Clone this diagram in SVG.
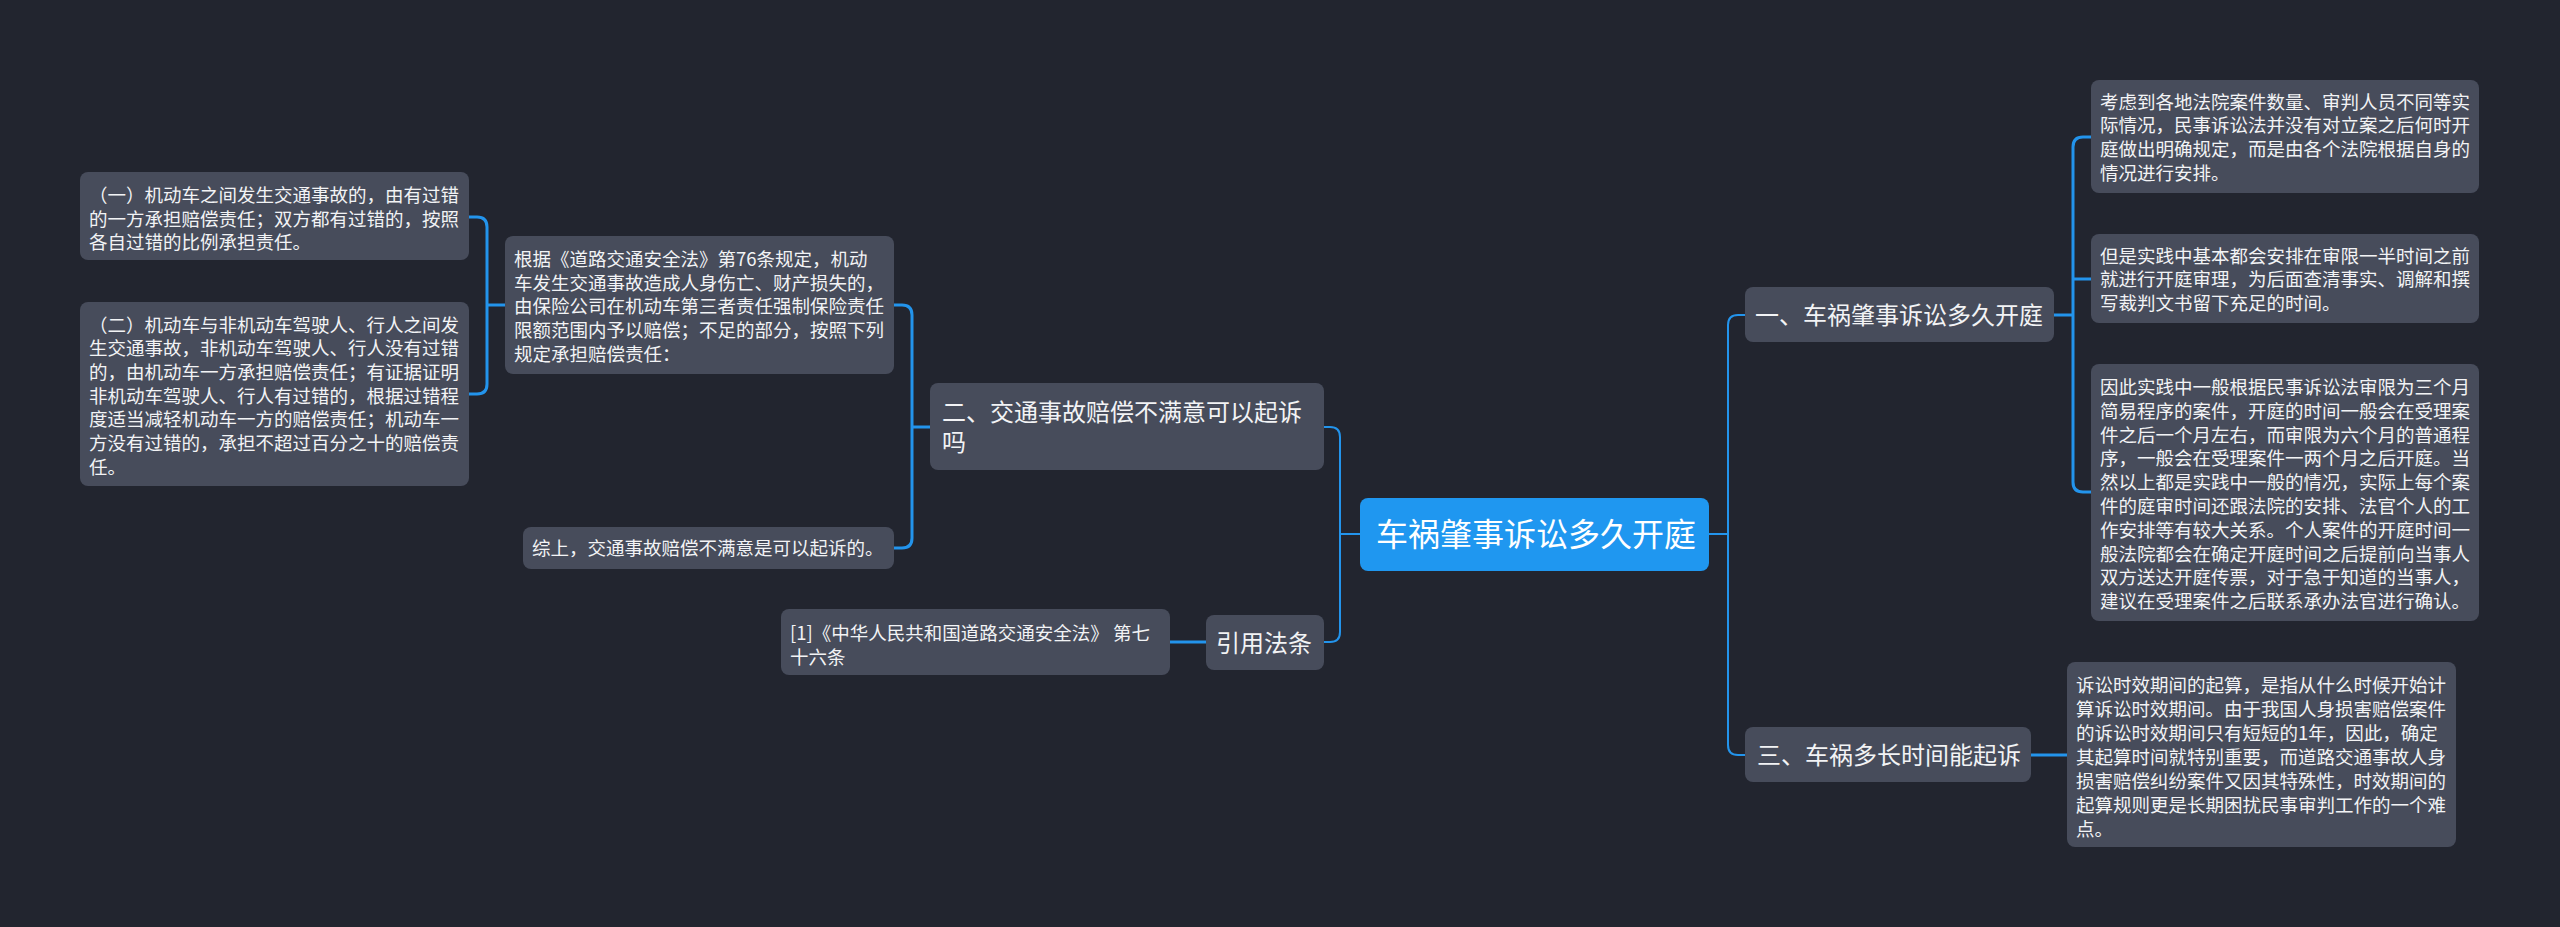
<svg xmlns="http://www.w3.org/2000/svg" width="2560" height="927" viewBox="0 0 2560 927">
<style>
.bg{fill:#22252f}
.n rect{fill:#474c5b}
.root rect{fill:#1f97f0}
text{font-family:"Noto Sans CJK SC","Noto Sans",sans-serif;fill:#f2f3f5}
.s{font-size:18.5px}
.m{font-size:24px}
.l{font-size:32px;fill:#ffffff}
.c{fill:none;stroke:#2394ec;stroke-width:3;stroke-linecap:round}
.c2{fill:none;stroke:#2394ec;stroke-width:2}
</style>
<rect class="bg" x="0" y="0" width="2560" height="927"/>
<g id="connectors">
<path class="c2" d="M1709,534 H1728 M1745,315 H1738 Q1728,315 1728,325 V745 Q1728,755 1738,755 H1745"/>
<path class="c2" d="M1360,534 H1340 M1324,427 H1330 Q1340,427 1340,437 V632 Q1340,642 1330,642 H1324"/>
<path class="c" d="M930,427 H912 M894,305 H902 Q912,305 912,315 V538 Q912,548 902,548 H894"/>
<path class="c" d="M505,305 H487 M469,217 H477 Q487,217 487,227 V384 Q487,394 477,394 H469"/>
<path class="c" d="M1206,642 H1170"/>
<path class="c" d="M2054,315 H2073 M2091,137 H2083 Q2073,137 2073,147 V482 Q2073,492 2083,492 H2091 M2073,279 H2091"/>
<path class="c" d="M2031,755 H2067"/>
</g>
<g id="root" class="root">
<rect x="1360" y="498" width="349" height="73" rx="8"/>
<text class="l" x="1376" y="546">车祸肇事诉讼多久开庭</text>
</g>
<g id="b1" class="n">
<rect x="1745" y="287" width="309" height="55" rx="8"/>
<text class="m" x="1755" y="324">一、车祸肇事诉讼多久开庭</text>
</g>
<g id="b1l1" class="n">
<rect x="2091" y="80" width="388" height="113" rx="8"/>
<text class="s"><tspan x="2100" y="108.5">考虑到各地法院案件数量、审判人员不同等实</tspan><tspan x="2100" y="132.2">际情况，民事诉讼法并没有对立案之后何时开</tspan><tspan x="2100" y="155.9">庭做出明确规定，而是由各个法院根据自身的</tspan><tspan x="2100" y="179.6">情况进行安排。</tspan></text>
</g>
<g id="b1l2" class="n">
<rect x="2091" y="234" width="388" height="89" rx="8"/>
<text class="s"><tspan x="2100" y="262.5">但是实践中基本都会安排在审限一半时间之前</tspan><tspan x="2100" y="286.2">就进行开庭审理，为后面查清事实、调解和撰</tspan><tspan x="2100" y="309.9">写裁判文书留下充足的时间。</tspan></text>
</g>
<g id="b1l3" class="n">
<rect x="2091" y="364" width="388" height="257" rx="8"/>
<text class="s"><tspan x="2100" y="394">因此实践中一般根据民事诉讼法审限为三个月</tspan><tspan x="2100" y="417.8">简易程序的案件，开庭的时间一般会在受理案</tspan><tspan x="2100" y="441.6">件之后一个月左右，而审限为六个月的普通程</tspan><tspan x="2100" y="465.4">序，一般会在受理案件一两个月之后开庭。当</tspan><tspan x="2100" y="489.2">然以上都是实践中一般的情况，实际上每个案</tspan><tspan x="2100" y="513">件的庭审时间还跟法院的安排、法官个人的工</tspan><tspan x="2100" y="536.8">作安排等有较大关系。个人案件的开庭时间一</tspan><tspan x="2100" y="560.6">般法院都会在确定开庭时间之后提前向当事人</tspan><tspan x="2100" y="584.4">双方送达开庭传票，对于急于知道的当事人，</tspan><tspan x="2100" y="608.2">建议在受理案件之后联系承办法官进行确认。</tspan></text>
</g>
<g id="b3" class="n">
<rect x="1745" y="727" width="286" height="55" rx="8"/>
<text class="m" x="1757" y="764">三、车祸多长时间能起诉</text>
</g>
<g id="b3l1" class="n">
<rect x="2067" y="662" width="389" height="185" rx="8"/>
<text class="s"><tspan x="2076" y="692">诉讼时效期间的起算，是指从什么时候开始计</tspan><tspan x="2076" y="716">算诉讼时效期间。由于我国人身损害赔偿案件</tspan><tspan x="2076" y="740">的诉讼时效期间只有短短的1年，因此，确定</tspan><tspan x="2076" y="764">其起算时间就特别重要，而道路交通事故人身</tspan><tspan x="2076" y="788">损害赔偿纠纷案件又因其特殊性，时效期间的</tspan><tspan x="2076" y="812">起算规则更是长期困扰民事审判工作的一个难</tspan><tspan x="2076" y="836">点。</tspan></text>
</g>
<g id="b2" class="n">
<rect x="930" y="383" width="394" height="87" rx="8"/>
<text class="m"><tspan x="942" y="421">二、交通事故赔偿不满意可以起诉</tspan><tspan x="942" y="451">吗</tspan></text>
</g>
<g id="b2l1" class="n">
<rect x="505" y="236" width="389" height="138" rx="8"/>
<text class="s"><tspan x="514" y="266">根据《道路交通安全法》第76条规定，机动</tspan><tspan x="514" y="289.7">车发生交通事故造成人身伤亡、财产损失的，</tspan><tspan x="514" y="313.4">由保险公司在机动车第三者责任强制保险责任</tspan><tspan x="514" y="337.1">限额范围内予以赔偿；不足的部分，按照下列</tspan><tspan x="514" y="360.8">规定承担赔偿责任：</tspan></text>
</g>
<g id="b2l1a" class="n">
<rect x="80" y="172" width="389" height="88" rx="8"/>
<text class="s"><tspan x="89" y="202">（一）机动车之间发生交通事故的，由有过错</tspan><tspan x="89" y="225.7">的一方承担赔偿责任；双方都有过错的，按照</tspan><tspan x="89" y="249.4">各自过错的比例承担责任。</tspan></text>
</g>
<g id="b2l1b" class="n">
<rect x="80" y="302" width="389" height="184" rx="8"/>
<text class="s"><tspan x="89" y="331.5">（二）机动车与非机动车驾驶人、行人之间发</tspan><tspan x="89" y="355.2">生交通事故，非机动车驾驶人、行人没有过错</tspan><tspan x="89" y="378.9">的，由机动车一方承担赔偿责任；有证据证明</tspan><tspan x="89" y="402.6">非机动车驾驶人、行人有过错的，根据过错程</tspan><tspan x="89" y="426.3">度适当减轻机动车一方的赔偿责任；机动车一</tspan><tspan x="89" y="450">方没有过错的，承担不超过百分之十的赔偿责</tspan><tspan x="89" y="473.7">任。</tspan></text>
</g>
<g id="b2l2" class="n">
<rect x="523" y="527" width="371" height="42" rx="8"/>
<text class="s" x="532" y="555">综上，交通事故赔偿不满意是可以起诉的。</text>
</g>
<g id="b4" class="n">
<rect x="1206" y="615" width="118" height="55" rx="8"/>
<text class="m" x="1216" y="652">引用法条</text>
</g>
<g id="b4l1" class="n">
<rect x="781" y="609" width="389" height="66" rx="8"/>
<text class="s"><tspan x="790" y="640">[1]《中华人民共和国道路交通安全法》 第七</tspan><tspan x="790" y="664">十六条</tspan></text>
</g>
</svg>
